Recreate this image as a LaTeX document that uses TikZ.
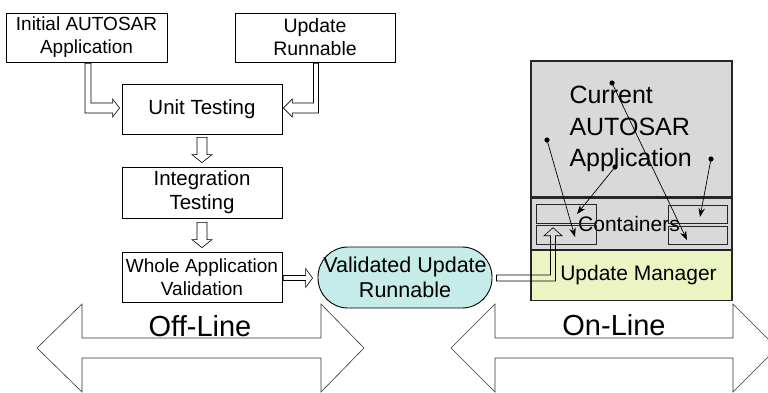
\documentclass[tikz,border=0pt]{standalone}
\usepackage{fontspec}
\setmainfont{Liberation Sans}
\usetikzlibrary{arrows.meta, calc, positioning}
\definecolor{appgray}{HTML}{D9D9D9}
\definecolor{managergreen}{HTML}{EBF5C3}
\definecolor{runnablecyan}{HTML}{C5ECE8}
\tikzset{
  stage/.style={draw=black, line width=0.8pt, fill=white, align=center, inner sep=0pt,
    minimum width=160pt, minimum height=50pt, font=\fontsize{19.5}{23}\selectfont},
  layer/.style={draw=black!85, line width=1.2pt, inner sep=0pt, minimum width=201pt,
    align=center, font=\fontsize{21}{25}\selectfont},
  slot/.style={draw=black!85, line width=1pt, inner sep=0pt, minimum width=59pt, minimum height=19pt},
  hollow/.style={draw=black, line width=0.6pt, line join=miter},
  phase/.style={draw=black!80, line width=0.6pt, line join=miter},
  phaselabel/.style={anchor=base, inner sep=0pt, font=\fontsize{29}{34}\selectfont},
  ptr/.style={-{Stealth[length=9pt,width=6.5pt]}, line width=0.7pt},
  node distance=0pt
}

\begin{document}
\begin{tikzpicture}[x=1pt, y=-1pt]
  \useasboundingbox (0,0) rectangle (768,392);

  % off-line / on-line bands
  \draw[phase] (37,348) -- (82,304) -- (82,338) -- (321,338) -- (321,304) -- (364,348)
    -- (321,392) -- (321,358) -- (82,358) -- (82,392) -- cycle;
  \draw[phase] (451,348) -- (495,304) -- (495,338) -- (733,338) -- (733,304) -- (777,348)
    -- (733,392) -- (733,358) -- (495,358) -- (495,392) -- cycle;
  \node[phaselabel] (offline) at (200,336) {Off-Line};
  \node[phaselabel] (online) at (614,335.5) {On-Line};

  % development flow
  \node[stage, minimum width=161pt, minimum height=49pt, font=\fontsize{19}{23}\selectfont]
    (init) at (86.5,37.5) {Initial AUTOSAR\\Application};
  \node[stage, minimum height=49pt] (upd) at (315,37.5) {Update\\Runnable};
  \node[stage, font=\fontsize{20.5}{24}\selectfont] (unit) at (202,109) {Unit Testing};
  \node[stage, minimum height=51pt, font=\fontsize{20.5}{24}\selectfont] (integ) at (202,192.5) {Integration\\Testing};
  \node[stage, font=\fontsize{19}{23}\selectfont] (whole) at (202,277) {Whole Application\\Validation};
  \node[draw=black, line width=0.9pt, fill=runnablecyan, rounded corners=30pt, inner sep=0pt,
    minimum width=174pt, minimum height=61pt, align=center, font=\fontsize{21.5}{25}\selectfont]
    (vur) at (405,277.5) {Validated Update\\Runnable};

  % target ECU
  \node[layer, fill=appgray, minimum height=136pt, text width=124pt, align=left,
    font=\fontsize{25}{31.8}\selectfont] (app) at (631.5,129) {Current\\AUTOSAR\\Application};
  \node[layer, fill=appgray, minimum height=51pt, below=of app] (cont) {\hspace*{-5pt}Containers};
  \node[layer, fill=managergreen, minimum height=50pt, below=of cont] (um) {\hspace*{14pt}Update Manager};

  \node[slot, minimum width=60pt] (cl1) at ($(cont.center)+(-65.5,-10)$) {};
  \node[slot, minimum width=60pt] (cl2) at ($(cont.center)+(-65.5,11)$) {};
  \node[slot, minimum height=18pt] (cr1) at ($(cont.center)+(66,-9.5)$) {};
  \node[slot, minimum height=18pt] (cr2) at ($(cont.center)+(66,11.5)$) {};

  % references into the containers
  \coordinate (src1) at (612,83);   \coordinate (dst1) at (687,240);
  \coordinate (src2) at (547,140);  \coordinate (dst2) at (575,237);
  \coordinate (src3) at (615,167);  \coordinate (dst3) at (577,214);
  \coordinate (src4) at (711,159);  \coordinate (dst4) at (700,217);
  \foreach \i in {1,...,4} {
    \fill (src\i) circle[radius=2.6pt];
    \draw[ptr] (src\i) -- (dst\i);
  }

  % block arrows
  \coordinate (a1s) at ($(init.south)+(1.5,1)$);
  \coordinate (a1t) at ($(unit.west)+(-2,-1)$);
  \draw[hollow] ($(a1s)+(-3,0)$) -- ($(a1s |- a1t)+(-3,5)$) -- ($(a1t)+(-7,5)$) -- ($(a1t)+(-7,9)$)
    -- (a1t) -- ($(a1t)+(-7,-9)$) -- ($(a1t)+(-7,-5)$) -- ($(a1s |- a1t)+(3,-5)$) -- ($(a1s)+(3,0)$) -- cycle;

  \coordinate (a2s) at ($(upd.south)+(0.5,1)$);
  \coordinate (a2t) at ($(unit.east)+(1,-1)$);
  \draw[hollow] ($(a2s)+(3,0)$) -- ($(a2s |- a2t)+(3,5)$) -- ($(a2t)+(9,5)$) -- ($(a2t)+(9,9)$)
    -- (a2t) -- ($(a2t)+(9,-9)$) -- ($(a2t)+(9,-5)$) -- ($(a2s |- a2t)+(-2,-5)$) -- ($(a2s)+(-2,0)$) -- cycle;

  \coordinate (a3s) at ($(unit.south)+(0,3)$);
  \coordinate (a3t) at ($(integ.north)+(0,-4)$);
  \draw[hollow] ($(a3s)+(-5,0)$) -- ($(a3t)+(-5,-8)$) -- ($(a3t)+(-10,-8)$) -- (a3t)
    -- ($(a3t)+(10,-8)$) -- ($(a3t)+(5,-8)$) -- ($(a3s)+(5,0)$) -- cycle;

  \coordinate (a4s) at ($(integ.south)+(0,4)$);
  \coordinate (a4t) at ($(whole.north)+(0,-4)$);
  \draw[hollow] ($(a4s)+(-5,0)$) -- ($(a4t)+(-5,-8)$) -- ($(a4t)+(-10,-8)$) -- (a4t)
    -- ($(a4t)+(10,-8)$) -- ($(a4t)+(5,-8)$) -- ($(a4s)+(5,0)$) -- cycle;

  \coordinate (a5s) at ($(whole.east)+(1,1)$);
  \coordinate (a5t) at ($(vur.west)+(-5,0.5)$);
  \draw[hollow] ($(a5s)+(0,-2.5)$) -- ($(a5t)+(-7,-2.5)$) -- ($(a5t)+(-7,-9.5)$) -- (a5t)
    -- ($(a5t)+(-7,9.5)$) -- ($(a5t)+(-7,2.5)$) -- ($(a5s)+(0,2.5)$) -- cycle;

  \coordinate (a6s) at ($(vur.east)+(4,0.5)$);
  \coordinate (a6t) at ($(cl2.north west)+(17.5,3)$);
  \draw[hollow] ($(a6s)+(0,-3)$) -- ($(a6s -| a6t)+(-2.5,-3)$) -- ($(a6t)+(-2.5,8)$) -- ($(a6t)+(-9,8)$)
    -- (a6t) -- ($(a6t)+(9,8)$) -- ($(a6t)+(2.5,8)$) -- ($(a6s -| a6t)+(2.5,3)$) -- ($(a6s)+(0,3)$) -- cycle;
\end{tikzpicture}
\end{document}
